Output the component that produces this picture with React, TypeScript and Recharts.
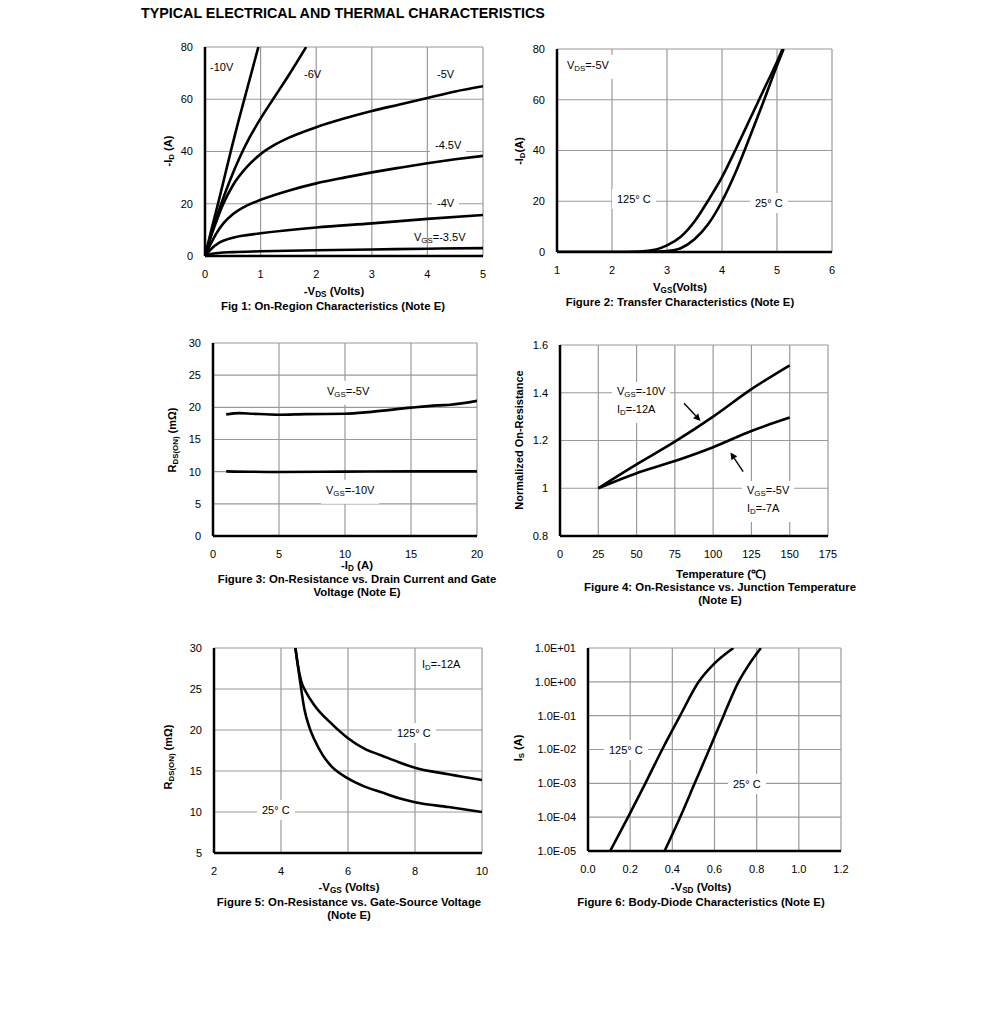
import React from 'react';
import { LineChart, Line, XAxis, YAxis, CartesianGrid, ReferenceLine } from 'recharts';

const FONT = '"Liberation Sans", Arial, Helvetica, sans-serif';

type Pt = [number, number];

// ---------- Fig 1: On-Region Characteristics ----------
const fig1XTicks = [0, 1, 2, 3, 4, 5];
const fig1YTicks = [0, 20, 40, 60, 80];
const fig1Vgs10: Pt[] = [[0, 0], [0.12, 10.5], [0.24, 20.5], [0.36, 31], [0.48, 41.5], [0.6, 51.5], [0.72, 61], [0.84, 70.5], [0.96, 80]];
const fig1Vgs6: Pt[] = [[0, 0], [0.15, 11], [0.3, 20.5], [0.45, 29], [0.63, 38], [0.8, 45.3], [1.0, 52.6], [1.23, 60.2], [1.5, 69], [1.82, 80]];
const fig1Vgs5: Pt[] = [[0, 0], [0.1, 7], [0.2, 13], [0.33, 20], [0.5, 27], [0.75, 34], [1, 39], [1.25, 42.5], [1.5, 45.2], [2, 49.3], [2.5, 52.6], [3, 55.5], [3.5, 58], [4, 60.5], [4.5, 63], [5, 65]];
const fig1Vgs45: Pt[] = [[0, 0], [0.1, 4.5], [0.2, 8.5], [0.33, 12.5], [0.5, 16], [0.75, 19.3], [1, 21.5], [1.5, 25], [2, 27.8], [2.5, 30], [3, 32], [3.5, 33.8], [4, 35.5], [4.5, 37], [5, 38.3]];
const fig1Vgs4: Pt[] = [[0, 0], [0.1, 2.5], [0.25, 5], [0.5, 7], [0.75, 8], [1, 8.7], [2, 10.9], [3, 12.5], [4, 14.2], [5, 15.7]];
const fig1Vgs35: Pt[] = [[0, 0], [0.1, 0.8], [0.5, 1.5], [1, 1.8], [2, 2.2], [3, 2.5], [4, 2.8], [5, 3.0]];

// ---------- Fig 2: Transfer Characteristics ----------
const fig2XTicks = [1, 2, 3, 4, 5, 6];
const fig2YTicks = [0, 20, 40, 60, 80];
const fig2T125: Pt[] = [[1, 0], [2, 0], [2.5, 0.2], [2.8, 1], [3, 2.6], [3.25, 6], [3.5, 12], [3.74, 20], [4, 29.5], [4.25, 40.5], [4.5, 52], [4.75, 63.5], [5, 75], [5.1, 80]];
const fig2T25: Pt[] = [[1, 0], [2.5, 0], [3, 0.4], [3.25, 1.5], [3.5, 5], [3.75, 11], [4, 20], [4.25, 31.5], [4.5, 45], [4.75, 59], [5, 73.5], [5.12, 80]];

// ---------- Fig 3: On-Resistance vs Drain Current ----------
const fig3XTicks = [0, 5, 10, 15, 20];
const fig3YTicks = [0, 5, 10, 15, 20, 25, 30];
const fig3Vgs5: Pt[] = [[1, 18.9], [2, 19.1], [3, 19.0], [5, 18.85], [7, 18.95], [10, 19.0], [12, 19.3], [15, 19.95], [17, 20.3], [18, 20.4], [20, 21.0]];
const fig3Vgs10: Pt[] = [[1, 10.05], [5, 9.95], [10, 10.0], [15, 10.05], [20, 10.05]];

// ---------- Fig 4: On-Resistance vs Junction Temperature ----------
const fig4XTicks = [0, 25, 50, 75, 100, 125, 150, 175];
const fig4YTicks = [0.8, 1, 1.2, 1.4, 1.6];
const fig4Vgs10: Pt[] = [[25, 1.0], [50, 1.1], [75, 1.195], [100, 1.3], [125, 1.415], [150, 1.515]];
const fig4Vgs5: Pt[] = [[25, 1.0], [50, 1.063], [75, 1.114], [100, 1.172], [125, 1.24], [150, 1.296]];
const fig4Arrow1: Pt[] = [[81, 1.356], [91.7, 1.282]];
const fig4Arrow2: Pt[] = [[119.6, 1.07], [111.3, 1.15]];

// ---------- Fig 5: On-Resistance vs Gate-Source Voltage ----------
const fig5XTicks = [2, 4, 6, 8, 10];
const fig5YTicks = [5, 10, 15, 20, 25, 30];
const fig5T125: Pt[] = [[4.43, 30], [4.5, 28], [4.6, 26], [4.75, 24.6], [5, 23], [5.5, 20.8], [6, 19], [6.5, 17.7], [7, 16.9], [7.5, 16.1], [8, 15.4], [9, 14.6], [10, 13.9]];
const fig5T25: Pt[] = [[4.43, 30], [4.55, 26.5], [4.7, 22.5], [4.85, 20.3], [5, 18.8], [5.25, 16.9], [5.5, 15.6], [6, 14.1], [6.5, 13.1], [7, 12.4], [7.5, 11.7], [8, 11.2], [9, 10.6], [10, 10.0]];

// ---------- Fig 6: Body-Diode Characteristics ----------
const fig6XTicks = [0, 0.2, 0.4, 0.6, 0.8, 1.0, 1.2];
const fig6YTicks = [1e-5, 1e-4, 1e-3, 1e-2, 1e-1, 1, 10];
const fig6T125: Pt[] = [[0.105, 1e-5], [0.19, 1e-4], [0.272, 1e-3], [0.352, 1e-2], [0.437, 1e-1], [0.525, 1], [0.6, 3.5], [0.69, 10]];
const fig6T25: Pt[] = [[0.363, 1e-5], [0.437, 1e-4], [0.506, 1e-3], [0.575, 1e-2], [0.643, 1e-1], [0.714, 1], [0.76, 3], [0.82, 10]];

const toPts = (arr: Pt[]) => arr.map(([x, y]) => ({ x, y }));

const fmtExp = (v: number) => {
  const e = Math.round(Math.log10(v));
  const s = e < 0 ? '-' : '+';
  return `1.0E${s}${String(Math.abs(e)).padStart(2, '0')}`;
};
const fmtDec1 = (v: number) => v.toFixed(1);

const tickStyle = { fill: '#000', fontSize: 11, fontFamily: FONT };

function curve(arr: Pt[], key: string) {
  return (
    <Line
      key={key}
      data={toPts(arr)}
      dataKey="y"
      type="monotone"
      stroke="#000"
      strokeWidth={2.6}
      dot={false}
      isAnimationActive={false}
    />
  );
}

const arrowShape = (p: any) => {
  const { x1, y1, x2, y2 } = p;
  const ang = Math.atan2(y2 - y1, x2 - x1);
  const L = 7;
  const W = 3.5;
  const bx = x2 - L * Math.cos(ang);
  const by = y2 - L * Math.sin(ang);
  const px = -Math.sin(ang) * W;
  const py = Math.cos(ang) * W;
  return (
    <g>
      <line x1={x1} y1={y1} x2={bx} y2={by} stroke="#000" strokeWidth={1.4} />
      <polygon points={`${x2},${y2} ${bx + px},${by + py} ${bx - px},${by - py}`} fill="#000" />
    </g>
  );
};

function arrow(arr: Pt[], key: string) {
  return (
    <ReferenceLine
      key={key}
      segment={[{ x: arr[0][0], y: arr[0][1] }, { x: arr[1][0], y: arr[1][1] }]}
      stroke="#000"
      shape={arrowShape}
      ifOverflow="visible"
    />
  );
}

type PanelProps = {
  box: [number, number, number, number];
  xDomain: [number, number];
  xTicks: number[];
  yDomain: [number, number];
  yTicks: number[];
  yLog?: boolean;
  xFmt?: (v: number) => string;
  yFmt?: (v: number) => string;
  children: React.ReactNode;
};

function Panel({ box, xDomain, xTicks, yDomain, yTicks, yLog, xFmt, yFmt, children }: PanelProps) {
  const [x0, y0, x1, y1] = box;
  return (
    <div style={{ position: 'absolute', left: x0 - 70, top: y0 - 10 }}>
      <LineChart width={x1 - x0 + 90} height={y1 - y0 + 40} margin={{ top: 10, right: 20, left: 0, bottom: 0 }}>
        <CartesianGrid stroke="#9a9a9a" strokeWidth={1.2} />
        <XAxis
          type="number"
          dataKey="x"
          domain={xDomain}
          ticks={xTicks}
          interval={0}
          allowDataOverflow
          height={30}
          tickSize={0}
          tickMargin={14}
          tickFormatter={xFmt}
          axisLine={{ stroke: '#000', strokeWidth: 2.5 }}
          tick={tickStyle}
        />
        <YAxis
          type="number"
          scale={yLog ? 'log' : 'auto'}
          domain={yDomain}
          ticks={yTicks}
          interval={0}
          allowDataOverflow
          width={70}
          tickSize={0}
          tickMargin={12}
          tickFormatter={yFmt}
          axisLine={{ stroke: '#000', strokeWidth: 2.5 }}
          tick={tickStyle}
        />
        {children}
      </LineChart>
    </div>
  );
}

const Sub = ({ children }: { children: React.ReactNode }) => (
  <span style={{ fontSize: '0.72em', verticalAlign: '-0.3em' }}>{children}</span>
);

// left-aligned annotation, vertical center at cy
function Ann({ x, cy, children, bg }: { x: number; cy: number; children: React.ReactNode; bg?: boolean }) {
  return (
    <div
      style={{
        position: 'absolute',
        left: bg ? x - 5 : x,
        top: cy,
        transform: 'translateY(-50%)',
        fontFamily: FONT,
        fontSize: 11,
        lineHeight: '14px',
        whiteSpace: 'nowrap',
        background: bg ? '#fff' : 'transparent',
        padding: bg ? '3px 5px' : 0,
        color: '#000',
      }}
    >
      {children}
    </div>
  );
}

function Ctr({ cx, cy, children, size = 11.4 }: { cx: number; cy: number; children: React.ReactNode; size?: number }) {
  return (
    <div
      style={{
        position: 'absolute',
        left: cx,
        top: cy,
        transform: 'translate(-50%, -50%)',
        fontFamily: FONT,
        fontSize: size,
        fontWeight: 'bold',
        whiteSpace: 'nowrap',
        lineHeight: '13px',
        color: '#000',
      }}
    >
      {children}
    </div>
  );
}

function Rot({ cx, cy, children }: { cx: number; cy: number; children: React.ReactNode }) {
  return (
    <div
      style={{
        position: 'absolute',
        left: cx,
        top: cy,
        transform: 'translate(-50%, -50%) rotate(-90deg)',
        fontFamily: FONT,
        fontSize: 11,
        fontWeight: 'bold',
        whiteSpace: 'nowrap',
        lineHeight: '13px',
        color: '#000',
      }}
    >
      {children}
    </div>
  );
}

export default function App() {
  return (
    <div style={{ position: 'absolute', left: 0, top: 0, width: 991, height: 1010, background: '#fff', overflow: 'hidden' }}>
      <div
        style={{
          position: 'absolute',
          left: 141,
          top: 13,
          transform: 'translateY(-50%)',
          fontFamily: FONT,
          fontSize: 14.3,
          fontWeight: 'bold',
          whiteSpace: 'nowrap',
        }}
      >
        TYPICAL ELECTRICAL AND THERMAL CHARACTERISTICS
      </div>

      {/* Fig 1 */}
      <Panel box={[205, 47, 483, 256]} xDomain={[0, 5]} xTicks={fig1XTicks} yDomain={[0, 80]} yTicks={fig1YTicks}>
        {[
          curve(fig1Vgs10, 'a'),
          curve(fig1Vgs6, 'b'),
          curve(fig1Vgs5, 'c'),
          curve(fig1Vgs45, 'd'),
          curve(fig1Vgs4, 'e'),
          curve(fig1Vgs35, 'f'),
        ]}
      </Panel>

      {/* Fig 2 */}
      <Panel box={[557, 49, 832, 252]} xDomain={[1, 6]} xTicks={fig2XTicks} yDomain={[0, 80]} yTicks={fig2YTicks}>
        {[curve(fig2T125, 'a'), curve(fig2T25, 'b')]}
      </Panel>

      {/* Fig 3 */}
      <Panel box={[213, 343, 477, 536]} xDomain={[0, 20]} xTicks={fig3XTicks} yDomain={[0, 30]} yTicks={fig3YTicks}>
        {[curve(fig3Vgs5, 'a'), curve(fig3Vgs10, 'b')]}
      </Panel>

      {/* Fig 4 */}
      <Panel box={[560, 345, 828, 536]} xDomain={[0, 175]} xTicks={fig4XTicks} yDomain={[0.8, 1.6]} yTicks={fig4YTicks}>
        {[curve(fig4Vgs10, 'a'), curve(fig4Vgs5, 'b'), arrow(fig4Arrow1, 'c'), arrow(fig4Arrow2, 'd')]}
      </Panel>

      {/* Fig 5 */}
      <Panel box={[214, 648, 482, 853]} xDomain={[2, 10]} xTicks={fig5XTicks} yDomain={[5, 30]} yTicks={fig5YTicks}>
        {[curve(fig5T125, 'a'), curve(fig5T25, 'b')]}
      </Panel>

      {/* Fig 6 */}
      <Panel
        box={[588, 648, 841, 851]}
        xDomain={[0, 1.2]}
        xTicks={fig6XTicks}
        yDomain={[1e-5, 10]}
        yTicks={fig6YTicks}
        yLog
        xFmt={fmtDec1}
        yFmt={fmtExp}
      >
        {[curve(fig6T125, 'a'), curve(fig6T25, 'b')]}
      </Panel>

      {/* Fig 1 annotations */}
      <Ann x={210} cy={67}>-10V</Ann>
      <Ann x={304} cy={74}>-6V</Ann>
      <Ann x={437} cy={74}>-5V</Ann>
      <Ann x={435} cy={145} bg>-4.5V</Ann>
      <Ann x={437} cy={203} bg>-4V</Ann>
      <Ann x={414} cy={239}>V<Sub>GS</Sub>=-3.5V</Ann>
      <Rot cx={170} cy={151}>-I<Sub>D</Sub> (A)</Rot>
      <Ctr cx={334} cy={293}>-V<Sub>DS</Sub> (Volts)</Ctr>
      <Ctr cx={333} cy={306}>Fig 1: On-Region Characteristics (Note E)</Ctr>

      {/* Fig 2 annotations */}
      <Ann x={567} cy={67} bg>V<Sub>DS</Sub>=-5V</Ann>
      <Ann x={617} cy={199} bg>125° C</Ann>
      <Ann x={755} cy={203} bg>25° C</Ann>
      <Rot cx={521} cy={151}>-I<Sub>D</Sub>(A)</Rot>
      <Ctr cx={680} cy={289}>V<Sub>GS</Sub>(Volts)</Ctr>
      <Ctr cx={680} cy={302}>Figure 2: Transfer Characteristics (Note E)</Ctr>

      {/* Fig 3 annotations */}
      <Ann x={327} cy={393} bg>V<Sub>GS</Sub>=-5V</Ann>
      <Ann x={326} cy={492} bg>V<Sub>GS</Sub>=-10V</Ann>
      <Rot cx={174} cy={440}>R<Sub>DS(ON)</Sub> (mΩ)</Rot>
      <Ctr cx={357} cy={567}>-I<Sub>D</Sub> (A)</Ctr>
      <Ctr cx={357} cy={579}>Figure 3: On-Resistance vs. Drain Current and Gate</Ctr>
      <Ctr cx={357} cy={592}>Voltage (Note E)</Ctr>

      {/* Fig 4 annotations */}
      <div style={{ position: 'absolute', left: 612, top: 382, background: '#fff', padding: '2px 5px', fontFamily: FONT, fontSize: 11, lineHeight: '14px', whiteSpace: 'nowrap' }}>
        V<Sub>GS</Sub>=-10V<br />I<Sub>D</Sub>=-12A
      </div>
      <div style={{ position: 'absolute', left: 742, top: 481, background: '#fff', padding: '2px 5px', fontFamily: FONT, fontSize: 11, lineHeight: '14px', whiteSpace: 'nowrap' }}>
        V<Sub>GS</Sub>=-5V<br />I<Sub>D</Sub>=-7A
      </div>
      <Rot cx={519} cy={440}>Normalized On-Resistance</Rot>
      <Ctr cx={721} cy={574}>Temperature (℃)</Ctr>
      <Ctr cx={720} cy={587}>Figure 4: On-Resistance vs. Junction Temperature</Ctr>
      <Ctr cx={720} cy={600}>(Note E)</Ctr>

      {/* Fig 5 annotations */}
      <Ann x={422} cy={666}>I<Sub>D</Sub>=-12A</Ann>
      <Ann x={397} cy={733} bg>125° C</Ann>
      <Ann x={262} cy={810} bg>25° C</Ann>
      <Rot cx={170} cy={757}>R<Sub>DS(ON)</Sub> (mΩ)</Rot>
      <Ctr cx={349} cy={889}>-V<Sub>GS</Sub> (Volts)</Ctr>
      <Ctr cx={349} cy={902}>Figure 5: On-Resistance vs. Gate-Source Voltage</Ctr>
      <Ctr cx={349} cy={915}>(Note E)</Ctr>

      {/* Fig 6 annotations */}
      <Ann x={609} cy={750} bg>125° C</Ann>
      <Ann x={733} cy={784} bg>25° C</Ann>
      <Rot cx={520} cy={748}>I<Sub>S</Sub> (A)</Rot>
      <Ctr cx={701} cy={889}>-V<Sub>SD</Sub> (Volts)</Ctr>
      <Ctr cx={701} cy={902}>Figure 6: Body-Diode Characteristics (Note E)</Ctr>
    </div>
  );
}
